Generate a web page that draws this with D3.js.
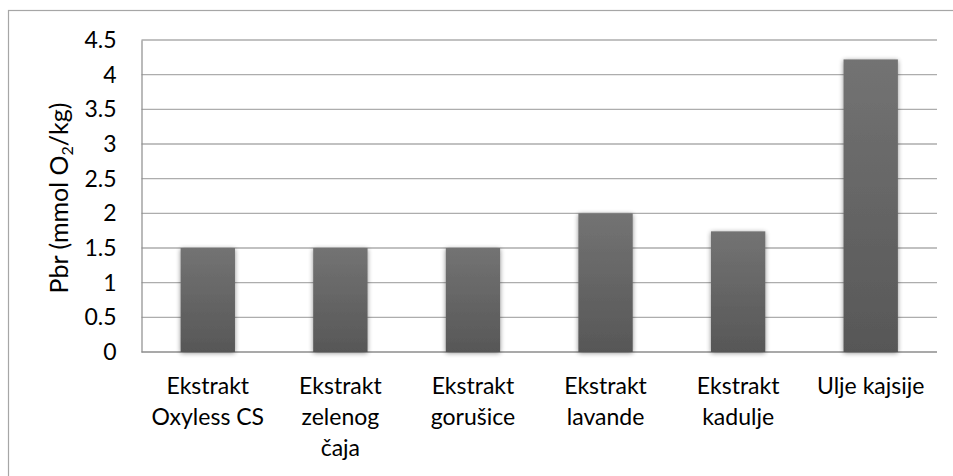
<!DOCTYPE html>
<html><head><meta charset="utf-8">
<script src="https://cdn.jsdelivr.net/npm/d3@7"></script>
<style>body{margin:0;background:#fff}svg{display:block}</style>
</head><body>
<svg id="c" width="953" height="476"></svg>
<script>
const categories = [["Ekstrakt","Oxyless CS"],["Ekstrakt","zelenog","čaja"],["Ekstrakt","gorušice"],["Ekstrakt","lavande"],["Ekstrakt","kadulje"],["Ulje kajsije"]];
const values = [1.5, 1.5, 1.5, 2.0, 1.74, 4.22];
const yTicks = [0,0.5,1,1.5,2,2.5,3,3.5,4,4.5];
const yTitle = "Pbr (mmol O";

const svg = d3.select("#c");
const font = "Lato, 'Open Sans', sans-serif";
const m = {l:141.5, r:937, t:40, b:352};

svg.append("rect").attr("x",8.5).attr("y",10.5).attr("width",960).attr("height",480)
  .attr("fill","#fff").attr("stroke","#a6a6a6").attr("stroke-width",1.2);

const defs = svg.append("defs");
const g = defs.append("linearGradient").attr("id","bg").attr("x1",0).attr("x2",0).attr("y1",0).attr("y2",1);
g.append("stop").attr("offset","0%").attr("stop-color","#737373");
g.append("stop").attr("offset","100%").attr("stop-color","#575757");
const f = defs.append("filter").attr("id","sh").attr("x","-30%").attr("y","-10%").attr("width","160%").attr("height","120%");
f.append("feGaussianBlur").attr("in","SourceAlpha").attr("stdDeviation",2.5).attr("result","b");
f.append("feOffset").attr("in","b").attr("dx",0).attr("dy",1).attr("result","o");
f.append("feComponentTransfer").attr("in","o").attr("result","t").append("feFuncA").attr("type","linear").attr("slope",0.45);
const mg = f.append("feMerge"); mg.append("feMergeNode").attr("in","t"); mg.append("feMergeNode").attr("in","SourceGraphic");

const x = d3.scaleBand().domain(d3.range(categories.length)).range([m.l,m.r]).paddingInner(0.59).paddingOuter(0.295);
const y = d3.scaleLinear().domain([0,4.5]).range([m.b,m.t]);

// gridlines
svg.append("g").selectAll("line").data(yTicks.filter(d=>d>0)).join("line")
  .attr("x1",m.l).attr("x2",m.r).attr("y1",d=>y(d)).attr("y2",d=>y(d))
  .attr("stroke","#adadad").attr("stroke-width",1.3);

// axes
const ya = d3.axisLeft(y).tickValues(yTicks).tickSize(0).tickPadding(25).tickFormat(d=>String(d));
const yg = svg.append("g").attr("transform",`translate(${m.l},0)`).call(ya);
yg.select(".domain").attr("stroke","#8c8c8c").attr("stroke-width",1.2);
yg.selectAll("text").attr("font-family",font).attr("font-size",23).attr("fill","#000");

svg.append("line").attr("x1",m.l).attr("x2",m.r).attr("y1",m.b).attr("y2",m.b).attr("stroke","#8c8c8c").attr("stroke-width",1.3);

// bars
svg.append("g").selectAll("rect").data(values).join("rect")
  .attr("x",(d,i)=>x(i)).attr("width",x.bandwidth())
  .attr("y",d=>y(d)).attr("height",d=>y(0)-y(d))
  .attr("fill","url(#bg)").attr("filter","url(#sh)");

// category labels
const cl = svg.append("g");
categories.forEach((lines,i)=>{
  const t = cl.append("text").attr("text-anchor","middle").attr("font-family",font).attr("font-size",23).attr("fill","#000");
  lines.forEach((s,j)=>t.append("tspan").attr("x",x(i)+x.bandwidth()/2).attr("y",394+j*31).text(s));
});

// y title
const yt = svg.append("text").attr("transform",`translate(68,${(m.t+m.b)/2+2}) rotate(-90)`)
  .attr("text-anchor","middle").attr("font-family",font).attr("font-size",25).attr("fill","#000");
yt.append("tspan").text(yTitle);
yt.append("tspan").attr("font-size",16).attr("dy",5).text("2");
yt.append("tspan").attr("dy",-5).text("/kg)");
</script>
</body></html>
